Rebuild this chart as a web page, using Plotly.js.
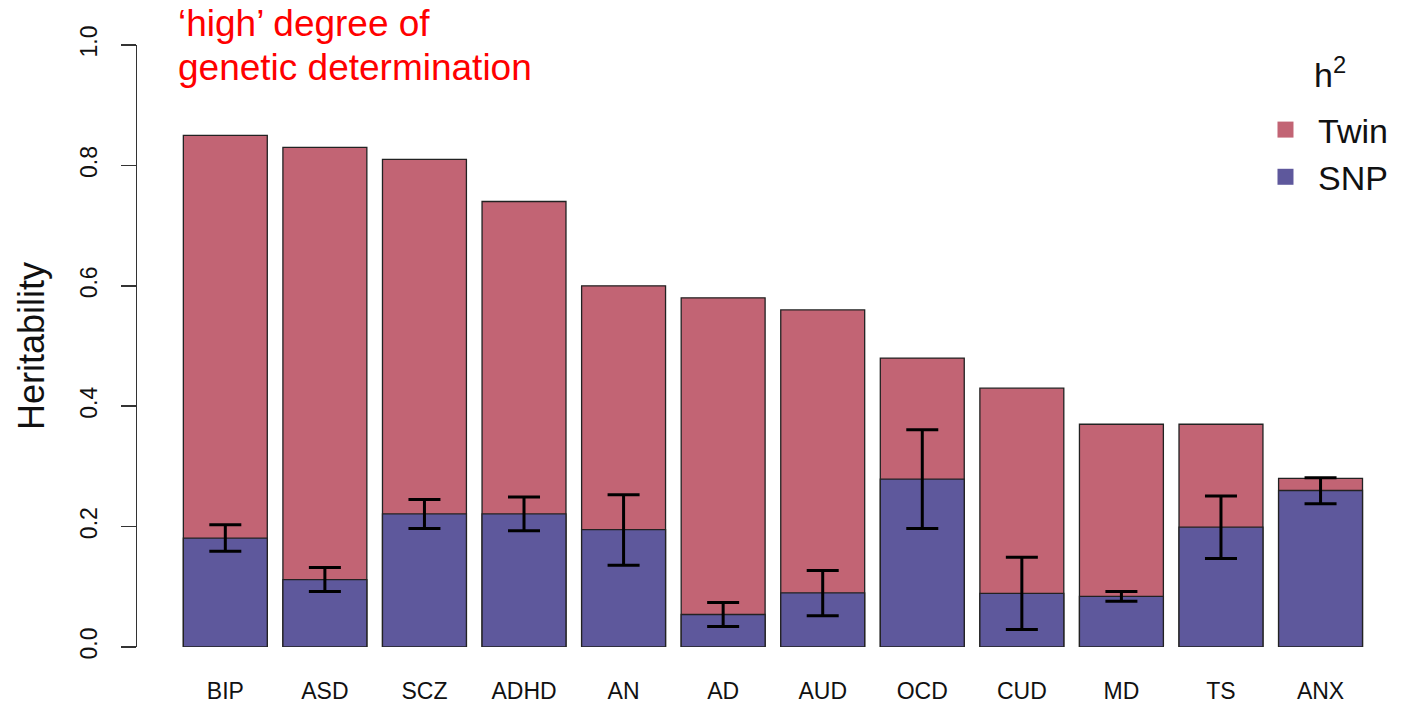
<!DOCTYPE html>
<html>
<head>
<meta charset="utf-8">
<script src="https://cdn.plot.ly/plotly-3.0.1.min.js"></script>
<style>
  html, body { margin: 0; padding: 0; background: #ffffff; }
  #chart { width: 1409px; height: 703px; }
</style>
</head>
<body>
<div id="chart"></div>
<script>
// Psychiatric disorders, heritability from twin studies vs SNP-based estimates
const disorders = ['BIP', 'ASD', 'SCZ', 'ADHD', 'AN', 'AD', 'AUD', 'OCD', 'CUD', 'MD', 'TS', 'ANX'];
const twinH2   = [0.85, 0.83, 0.81, 0.74, 0.60, 0.58, 0.56, 0.48, 0.43, 0.37, 0.37, 0.28];
const snpH2    = [0.181, 0.112, 0.221, 0.221, 0.195, 0.054, 0.090, 0.279, 0.089, 0.084, 0.199, 0.260];
const snpUpper = [0.203, 0.132, 0.245, 0.249, 0.253, 0.074, 0.127, 0.361, 0.149, 0.092, 0.251, 0.281];
const snpLower = [0.159, 0.092, 0.197, 0.193, 0.136, 0.034, 0.052, 0.197, 0.029, 0.076, 0.147, 0.238];
const yTicks   = [0, 0.2, 0.4, 0.6, 0.8, 1.0];
const yTickText = ['0.0', '0.2', '0.4', '0.6', '0.8', '1.0'];

const twinColor = '#C26474';
const snpColor  = '#5E589C';
const font = 'Liberation Sans, Arial, Helvetica, sans-serif';

const errPlus  = snpUpper.map((u, i) => u - snpH2[i]);
const errMinus = snpLower.map((l, i) => snpH2[i] - l);

const traces = [
  {
    type: 'bar', x: disorders, y: twinH2, name: 'Twin', showlegend: false,
    width: 0.843,
    marker: { color: twinColor, line: { color: '#222222', width: 1.3 } },
    hoverinfo: 'x+y'
  },
  {
    type: 'bar', x: disorders, y: snpH2, name: 'SNP', showlegend: false,
    width: 0.843,
    marker: { color: snpColor, line: { color: '#222222', width: 1.3 } },
    error_y: {
      type: 'data', symmetric: false, array: errPlus, arrayminus: errMinus,
      color: '#000000', thickness: 3, width: 16
    },
    hoverinfo: 'x+y'
  },
  // legend keys
  {
    type: 'scatter', mode: 'markers', x: [null], y: [null], name: 'Twin',
    marker: { symbol: 'square', size: 16, color: twinColor }
  },
  {
    type: 'scatter', mode: 'markers', x: [null], y: [null], name: 'SNP',
    marker: { symbol: 'square', size: 16, color: snpColor }
  }
];

const layout = {
  width: 1409, height: 703,
  margin: { l: 137, r: 9, t: 45, b: 56 },
  paper_bgcolor: '#ffffff', plot_bgcolor: '#ffffff',
  barmode: 'overlay',
  font: { family: font, color: '#111111' },
  showlegend: true,
  legend: {
    x: 0.8836, y: 0.907, xanchor: 'left', yanchor: 'top',
    font: { family: font, size: 34, color: '#111111' },
    bgcolor: 'rgba(0,0,0,0)', itemwidth: 55, tracegroupgap: 0
  },
  xaxis: {
    type: 'category',
    range: [-0.887, 11.798],
    showgrid: false, zeroline: false, showline: false,
    ticks: '', ticklabelstandoff: 28,
    tickfont: { family: font, size: 23, color: '#111111' }
  },
  yaxis: {
    range: [0, 1],
    tickvals: yTicks, ticktext: yTickText,
    showgrid: false, zeroline: false,
    showline: true, linecolor: '#333333', linewidth: 1.5,
    ticks: 'outside', ticklen: 15, tickwidth: 1.5, tickcolor: '#333333',
    tickangle: -90, ticklabelstandoff: 14,
    tickfont: { family: font, size: 23, color: '#111111' },
    title: { text: 'Heritability', standoff: 20, font: { family: font, size: 36, color: '#111111' } }
  },
  annotations: [
    {
      xref: 'paper', yref: 'paper', x: 0.031, y: (647 - 24) / 602,
      xanchor: 'left', yanchor: 'middle', showarrow: false,
      text: '\u2018high\u2019 degree of',
      font: { family: font, size: 37, color: '#FF0000' }
    },
    {
      xref: 'paper', yref: 'paper', x: 0.031, y: (647 - 68) / 602,
      xanchor: 'left', yanchor: 'middle', showarrow: false,
      text: 'genetic determination',
      font: { family: font, size: 37, color: '#FF0000' }
    },
    // legend heading
    {
      xref: 'paper', yref: 'paper', x: (1330 - 137) / 1263, y: (647 - 72) / 602,
      xanchor: 'center', yanchor: 'middle', showarrow: false,
      text: 'h<sup>2</sup>',
      font: { family: font, size: 34, color: '#111111' }
    }
  ]
};

Plotly.newPlot('chart', traces, layout, { displayModeBar: false, staticPlot: true });
</script>
</body>
</html>
